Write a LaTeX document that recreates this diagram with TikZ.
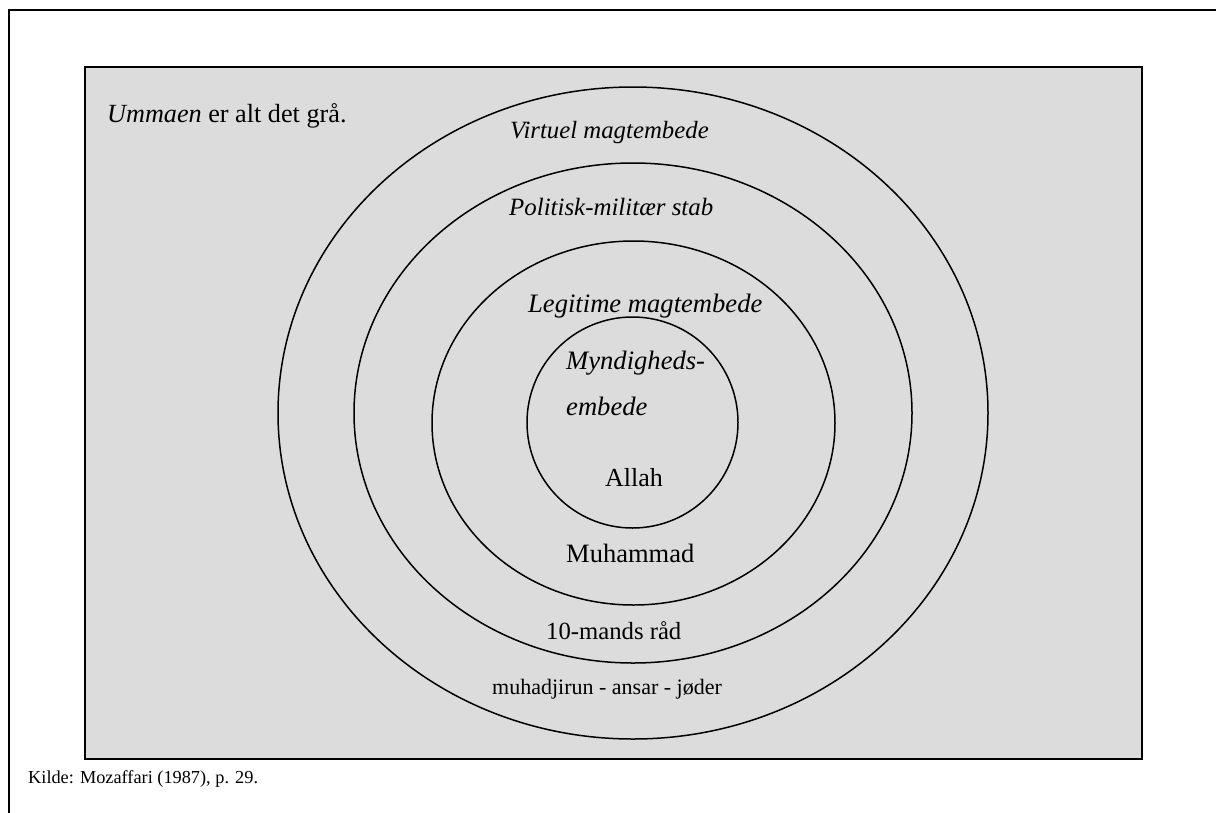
\documentclass[tikz,border=0pt]{standalone}
\usepackage{fontspec}
\setmainfont{Liberation Serif}
\begin{document}
\begin{tikzpicture}[x=1pt,y=-1pt,
  ring/.style={draw=black,line width=1.5pt},
  lbl/.style={anchor=base west,inner sep=0pt,font=\fontsize{#1}{#1}\selectfont},
  lbl/.default=25]
\definecolor{ummagray}{RGB}{220,220,220}
\useasboundingbox (0,0) rectangle (1216,812);
% outer frame, running off the right and bottom edges
\draw[line width=2pt] (9,10) rectangle (1240,840);
% the grey field
\filldraw[fill=ummagray,draw=black,line width=2.4pt] (85,67) rectangle (1142,759);
% concentric rings
\draw[ring] (633,413) ellipse [x radius=355,y radius=326];
\draw[ring] (633,413) ellipse [x radius=279,y radius=250];
\draw[ring] (633.5,423) ellipse [x radius=201.5,y radius=182];
\draw[ring] (632.5,422.5) circle [radius=105.5];
% labels
\node[lbl=26.2] (umma) at (107,122) {\textit{Ummaen} er alt det grå.};
\node[lbl=24.8] (virt) at (510,138) {\textit{Virtuel magtembede}};
\node[lbl=24.9] (pol) at (509,215) {\textit{Politisk-militær stab}};
\node[lbl=26.6] (leg) at (528,312) {\textit{Legitime magtembede}};
\node[lbl=26.6] (myn) at (566,369) {\textit{Myndigheds-}};
\node[lbl=26.6] (emb) at (566,415) {\textit{embede}};
\node[lbl=26] (allah) at (605,486) {Allah};
\node[lbl=26.5] (muh) at (566,562) {Muhammad};
\node[lbl=24.7] (raad) at (546,639) {10-mands råd};
\node[lbl=22] (folk) at (492,694) {muhadjirun - ansar - jøder};
\node[lbl=18.3] (kilde) at (28,783) {Kilde: Mozaffari (1987), p. 29.};
\end{tikzpicture}
\end{document}
